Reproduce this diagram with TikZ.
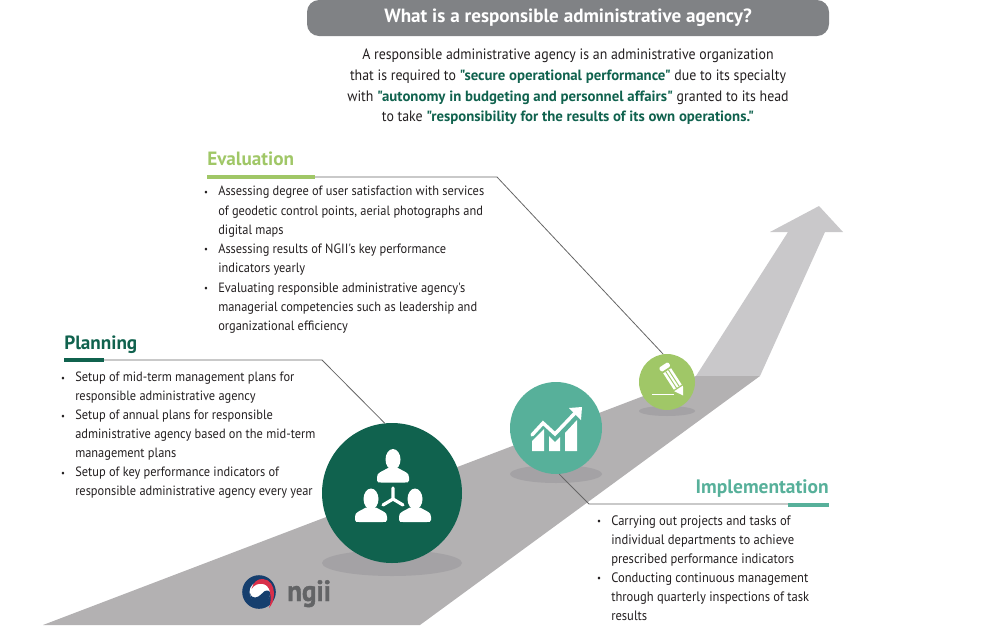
\documentclass[tikz,border=0pt]{standalone}
\usepackage{fontspec}
\setmainfont[Ligatures=TeXOff]{PT Sans}
\newfontfamily\tightfont[Ligatures=TeXOff,FakeStretch=0.92]{PT Sans}
\newfontfamily\logofont[BoldFeatures={FakeBold=1.2,FakeStretch=0.92}]{PT Sans}
\definecolor{roadgrey}{HTML}{B3B1B2}
\definecolor{arrowgrey}{HTML}{C9C8CA}
\definecolor{shadowgrey}{HTML}{A4A2A5}
\definecolor{bargrey}{HTML}{808285}
\definecolor{darkgreen}{HTML}{10624E}
\definecolor{tealgreen}{HTML}{57B09A}
\definecolor{lightgreen}{HTML}{A0C767}
\definecolor{textdark}{HTML}{231F20}
\definecolor{logoblue}{HTML}{163F6E}
\definecolor{logored}{HTML}{D9304A}
\definecolor{logogrey}{HTML}{636466}
\newcommand{\bul}{\llap{\raisebox{0.5pt}{\scalebox{0.7}{•}}\hspace{7.6pt}}}
\newcommand{\hl}[1]{\textcolor{darkgreen}{\normalfont\fontsize{11.12pt}{15.5pt}\selectfont\bfseries #1}}
\newcommand{\personicon}[2]{%
  \begin{scope}[shift={(#1,#2)}]
    \fill[white] (0,0) ellipse (7.5 and 10.5);
    \fill[white] (-16,18) .. controls (-16,13) and (-12,12.5) .. (-5,8.5) -- (5,8.5)
      .. controls (12,12.5) and (16,13) .. (16,18) -- (16,21)
      .. controls (16,23) and (14,23) .. (12,23) -- (-12,23)
      .. controls (-14,23) and (-16,23) .. (-16,21) -- cycle;
  \end{scope}}
\tikzset{
  bodytext/.style={anchor=north west,inner sep=0pt,align=left,text=textdark,
    font=\tightfont\fontsize{10.1pt}{14.25pt}\selectfont},
  headline/.style={anchor=base west,inner sep=0pt,font=\fontsize{14.4pt}{16pt}\selectfont\bfseries},
  leader/.style={draw=black!60,line width=0.6pt},
  headbar/.style={line width=3pt},
  stagecircle/.style={circle,inner sep=0pt,draw=none},
}
\begin{document}
\begin{tikzpicture}[x=0.75pt,y=-0.75pt]
\useasboundingbox (0,0) rectangle (1000,629);
% road and arrow
\fill[arrowgrey] (696,376) -- (788,232) -- (770,232) -- (819,206) -- (843,232) -- (825,232) -- (760,376) -- cycle;
\fill[roadgrey] (43,625) -- (696,376) -- (760,376) -- (420,625) -- cycle;
% shadows
\fill[shadowgrey] (392,563) ellipse (70 and 13);
\fill[shadowgrey] (556,474) ellipse (46 and 9);
\fill[shadowgrey] (667,411) ellipse (28 and 5);
% title
\node[fill=bargrey,rounded corners=9pt,minimum width=391.5pt,minimum height=27pt,inner sep=0pt,
  text=white,font=\fontsize{14.35pt}{16pt}\selectfont\bfseries] (title) at (568,18) {What is a responsible administrative agency?};
\node[inner sep=0pt,align=center,text=textdark,font=\tightfont\fontsize{11.3pt}{15.5pt}\selectfont,anchor=north] (intro) at (568,49)
 {A responsible administrative agency is an administrative organization\\
  that is required to \hl{"secure operational performance"} due to its specialty\\
  with \hl{"autonomy in budgeting and personnel affairs"} granted to its head\\
  to take \hl{"responsibility for the results of its own operations."}};
% circles
\node[stagecircle,fill=darkgreen,minimum size=105pt] (plancirc) at (392,493) {};
\node[stagecircle,fill=tealgreen,minimum size=69pt] (implcirc) at (556,428) {};
\node[stagecircle,fill=lightgreen,minimum size=42pt] (evalcirc) at (667,382) {};
% headings
\node[headline,text=lightgreen] (evalhead) at (207,165) {Evaluation};
\node[headline,text=darkgreen] (planhead) at (64,349) {Planning};
\node[headline,text=tealgreen,anchor=base east,font=\fontsize{14.6pt}{16pt}\selectfont\bfseries] (implhead) at (829,493) {Implementation};
% bars and leaders
\coordinate (evalbarl) at (207,177); \coordinate (evalbarr) at (315,177); \coordinate (evalbend) at (497,177);
\coordinate (planbarl) at (64,360); \coordinate (planbarr) at (104,360); \coordinate (planbend) at (322,360);
\coordinate (implbarl) at (788,505); \coordinate (implbarr) at (829,505); \coordinate (implbend) at (589,504);
\draw[leader] (evalbarr) -- (evalbend) -- (evalcirc.98);
\draw[leader] (planbarr) -- (planbend) -- (plancirc.96);
\draw[leader] (implbarl |- implbend) -- (implbend) -- (implcirc.-86);
\draw[headbar,draw=lightgreen] (evalbarl) -- (evalbarr);
\draw[headbar,draw=darkgreen] (planbarl) -- (planbarr);
\draw[headbar,draw=tealgreen] (implbarl) -- (implbarr);
% body text
\node[bodytext,font=\tightfont\fontsize{10.1pt}{14.45pt}\selectfont] (evaltext) at (218,186) {\bul Assessing degree of user satisfaction with services\\
 of geodetic control points, aerial photographs and\\
 digital maps\\
 \bul Assessing results of NGII's key performance\\
 indicators yearly\\
 \bul Evaluating responsible administrative agency's\\
 managerial competencies such as leadership and\\
 organizational efficiency};
\node[bodytext] (plantext) at (75,372) {\bul Setup of mid-term management plans for\\
 responsible administrative agency\\
 \bul Setup of annual plans for responsible\\
 administrative agency based on the mid-term\\
 management plans\\
 \bul Setup of key performance indicators of\\
 responsible administrative agency every year};
\node[bodytext,font=\tightfont\fontsize{10.25pt}{14.25pt}\selectfont] (impltext) at (611,515) {\bul Carrying out projects and tasks of\\
 individual departments to achieve\\
 prescribed performance indicators\\
 \bul Conducting continuous management\\
 through quarterly inspections of task\\
 results};
% people icon
\personicon{393}{459.5}
\personicon{371}{499}
\personicon{415}{499}
\draw[white,line width=2.4pt,line cap=round] (393,488) -- (393,499) -- (383,505);
\draw[white,line width=2.4pt,line cap=round] (393,499) -- (403,505);
% chart icon
\fill[white] (532,441) -- (544,429) -- (544,451) -- (532,451) -- cycle;
\fill[white] (549,436) -- (555,442) -- (560,437) -- (560,451) -- (549,451) -- cycle;
\fill[white] (565,433) -- (577,420) -- (577,451) -- (565,451) -- cycle;
\draw[white,line width=2.6pt,line cap=round,line join=miter] (532,435) -- (543,423) -- (555,434) -- (575,413);
\fill[white] (582,407) -- (569,408) -- (581,420) -- cycle;
% pencil icon
\begin{scope}[shift={(664.7,367)},rotate=33]
  \fill[white,rounded corners=1pt] (-5.5,-2.5) rectangle (5.5,2.5);
  \fill[white] (-4.7,4.5) rectangle (4.7,24);
  \draw[lightgreen,line width=0.7pt] (-1.6,4.5) -- (-1.6,24) (1.6,4.5) -- (1.6,24);
  \fill[white] (-5.2,25.5) -- (5.2,25.5) -- (0,34) -- cycle;
\end{scope}
\draw[white,line width=1.1pt] (652,394.5) -- (674,394.5);
% logo
\fill[logoblue] (259,592) circle (16.8);
\fill[white] (260,592) circle (10.5);
\fill[logored] (251.5,589) .. controls (253,582) and (258,578.5) .. (263,579)
  .. controls (270,579.5) and (274,586) .. (274,593)
  .. controls (274,600) and (272,605) .. (269,608)
  .. controls (271,603) and (271,597) .. (270,592)
  .. controls (269,587) and (266,584.5) .. (263,584)
  .. controls (258,583) and (254,585) .. (251.5,589) -- cycle;
\fill[logoblue] (250,593) .. controls (252,600) and (258,598) .. (262,593.5)
  .. controls (265,590) and (268,589.5) .. (270,592)
  .. controls (271,598) and (266,604) .. (259,603.5)
  .. controls (253,603.5) and (250,598) .. (250,593) -- cycle;
\node[anchor=base west,inner sep=0pt,text=logogrey,font=\logofont\fontsize{22pt}{24pt}\selectfont\bfseries] (logotext) at (287,601) {ngii};
\end{tikzpicture}
\end{document}
